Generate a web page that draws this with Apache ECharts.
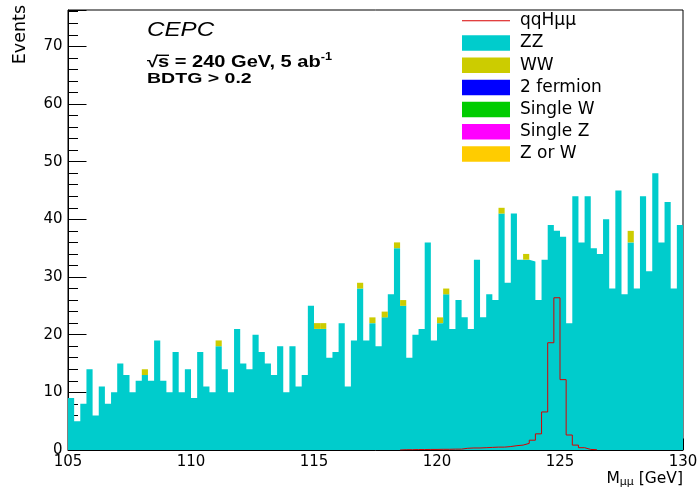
<!DOCTYPE html>
<html><head><meta charset="utf-8">
<script src="https://cdn.jsdelivr.net/npm/echarts@6/dist/echarts.min.js"></script>
<style>html,body{margin:0;padding:0;background:#fff}#c{width:697px;height:493px}</style>
</head><body><div id="c"></div>
<script>
// Histogram binning (GeV)
const binStart = 105;
const binWidth = 0.25;
// ZZ background per bin (100 bins, 105-130 GeV)
const zz = [9,5,8,14,6,11,8,10,15,13,10,12,13,12,19,12,10,17,10,14,9,17,11,10,18,
14,10,21,15,14,20,17,15,13,18,10,18,11,13,25,21,21,16,17,22,11,19,28,19,22,
18,23,27,35,25,16,20,21,36,19,22,27,21,26,23,21,33,23,27,26,41,29,41,33,33,
32.7,26,33,39,38,37,22,44,36,44,35,34,40,28,45,27,36,28,44,31,48,36,43,28,39];
// WW background per bin
const ww = [0,0,0,0,0,0,0,0,0,0,0,0,1,0,0,0,0,0,0,0,0,0,0,0,1,
0,0,0,0,0,0,0,0,0,0,0,0,0,0,0,1,1,0,0,0,0,0,1,0,1,
0,1,0,1,1,0,0,0,0,0,1,1,0,0,0,0,0,0,0,0,1,0,0,0,1,
0,0,0,0,0,0,0,0,0,0,0,0,0,0,0,0,2,0,0,0,0,0,0,0,0];
// qqHmumu signal per bin
const sig = [0,0,0,0,0,0,0,0,0,0,0,0,0,0,0,0,0,0,0,0,0,0,0,0,0,
0,0,0,0,0,0,0,0,0,0,0,0,0,0,0,0,0,0,0,0,0,0,0,0,0,
0,0,0,0,0.05,0.05,0.08,0.08,0.1,0.1,0.12,0.12,0.15,0.15,0.3,0.35,0.35,0.4,0.45,0.5,0.5,0.6,0.75,0.85,1.15,
1.7,2.8,6.6,18.6,26.4,12.2,2.6,0.85,0.4,0.1,0.05,0,0,0,0,0,0,0,0,0,0,0,0,0,0];
const names = ['qqHμμ','ZZ','WW','2 fermion','Single W','Single Z','Z or W'];
const colors = ['#d80000','#00cccc','#cccc00','#0000ff','#00cc00','#ff00ff','#ffcc00'];
const xRange = [105, 130];
const yRange = [0, 76.3];

const edge = i => binStart + i * binWidth;
const nb = zz.length;

const zzPts = zz.map((v, i) => [edge(i), v]);
zzPts.push([edge(nb), zz[nb - 1]]);

const wwRects = [];
ww.forEach((v, i) => { if (v > 0) wwRects.push([edge(i), edge(i + 1), zz[i], zz[i] + v]); });

let s0 = sig.findIndex(v => v > 0);
let s1 = sig.length - 1 - [...sig].reverse().findIndex(v => v > 0);
const sigPts = [[edge(s0), 0]];
for (let i = s0; i <= s1; i++) sigPts.push([edge(i), sig[i]]);
sigPts.push([edge(s1 + 1), sig[s1]]);
sigPts.push([edge(s1 + 1), 0]);

const chart = echarts.init(document.getElementById('c'), null, {renderer: 'canvas'});
const FONT = 'DejaVu Sans';
const emptySeries = [3,4,5,6].map(k => ({
  name: names[k], type: 'line', data: [], symbol: 'none',
  itemStyle: {color: colors[k]}, lineStyle: {color: colors[k]}
}));

chart.setOption({
  animation: false,
  backgroundColor: '#fff',
  grid: {left: 68, right: 14, top: 10, bottom: 43, show: true, borderColor: '#000', borderWidth: 1, backgroundColor: 'transparent', outerBoundsMode: 'none', containLabel: false},
  xAxis: {
    type: 'value', min: xRange[0], max: xRange[1], interval: 5,
    axisLine: {show: true, onZero: false, lineStyle: {color: '#000', width: 1}},
    axisTick: {show: true, inside: true, length: 11.5, lineStyle: {color: '#000'}},
    minorTick: {show: true, splitNumber: 5, length: 5.7, lineStyle: {color: '#000'}},
    splitLine: {show: false},
    axisLabel: {color: '#000', fontFamily: FONT, fontSize: 15, margin: 5}
  },
  yAxis: [{
    type: 'value', min: yRange[0], max: yRange[1], interval: 10,
    axisLine: {show: true, onZero: false, lineStyle: {color: '#000', width: 1}},
    axisTick: {show: true, inside: true, length: 18.5, lineStyle: {color: '#000'}},
    splitLine: {show: false},
    axisLabel: {color: '#000', fontFamily: FONT, fontSize: 15, margin: 5.5,
      formatter: v => (Math.abs(v % 10) < 1e-9 ? String(v) : ''), showMaxLabel: true}
  }, {
    type: 'value', min: yRange[0], max: yRange[1], interval: 2, position: 'left',
    axisLine: {show: false},
    axisTick: {show: true, inside: true, length: 10, lineStyle: {color: '#000'}},
    splitLine: {show: false},
    axisLabel: {show: false}
  }],
  legend: {
    orient: 'vertical', left: 462, top: 12.3, padding: 0,
    itemWidth: 48, itemHeight: 15.5, itemGap: 5.2, selectedMode: false,
    textStyle: {fontFamily: FONT, fontSize: 17, color: '#000', lineHeight: 17, padding: [0, 0, 0, 5]},
    data: names.map((n, k) => k === 0
      ? {name: n, icon: 'path://M0,0 L48,0 L48,1 L0,1 Z'}
      : {name: n, icon: 'rect'})
  },
  series: [
    {
      name: 'ZZ', type: 'line', step: 'end', data: zzPts, symbol: 'none', z: 2,
      itemStyle: {color: colors[1]}, lineStyle: {color: colors[1], width: 0},
      areaStyle: {color: colors[1], opacity: 1, origin: 0}
    },
    {
      name: 'WW', type: 'custom', data: wwRects, z: 3,
      itemStyle: {color: colors[2]},
      encode: {x: [0, 1], y: [2, 3]},
      renderItem: (params, api) => {
        const p0 = api.coord([api.value(0), api.value(3)]);
        const p1 = api.coord([api.value(1), api.value(2)]);
        return {type: 'rect', shape: {x: p0[0], y: p0[1], width: p1[0] - p0[0], height: p1[1] - p0[1]},
          style: {fill: colors[2]}};
      }
    },
    ...emptySeries,
    {
      name: 'qqHμμ', type: 'line', step: 'end', data: sigPts, symbol: 'none', z: 5,
      itemStyle: {color: colors[0]}, lineStyle: {color: colors[0], width: 1}
    }
  ],
  graphic: [
    {type: 'text', x: 147, y: 30.5, scaleX: 1.24, z: 10,
      style: {text: 'CEPC', fontFamily: 'Liberation Sans', fontStyle: 'italic', fontSize: 19.5, fill: '#000', align: 'left', verticalAlign: 'middle'}},
    {type: 'text', x: 147, y: 61.3, scaleX: 1.27, z: 10,
      style: {text: '{a|√s = 240 GeV, 5 ab}{b|-1}', fill: '#000', align: 'left', verticalAlign: 'middle',
        rich: {
          a: {fontFamily: 'Liberation Sans', fontWeight: 'bold', fontSize: 15.8, lineHeight: 18, verticalAlign: 'bottom'},
          b: {fontFamily: 'Liberation Sans', fontWeight: 'bold', fontSize: 10, lineHeight: 10, verticalAlign: 'top'}
        }}},
    {type: 'line', z: 10, shape: {x1: 157, y1: 55.3, x2: 169, y2: 55.3}, style: {stroke: '#000', lineWidth: 1.4}},
    {type: 'text', x: 147, y: 79, scaleX: 1.26, z: 10,
      style: {text: 'BDTG > 0.2', fontFamily: 'Liberation Sans', fontWeight: 'bold', fontSize: 15.5, fill: '#000', align: 'left', verticalAlign: 'middle'}},
    {type: 'text', x: 20, y: 5, rotation: Math.PI / 2, z: 10,
      style: {text: 'Events', fontFamily: FONT, fontSize: 17.5, fill: '#000', align: 'right', verticalAlign: 'middle'}},
    {type: 'text', x: 683, y: 478.5, z: 10,
      style: {text: '{a|M}{b|μμ}{a| [GeV]}', fill: '#000', align: 'right', verticalAlign: 'middle',
        rich: {
          a: {fontFamily: FONT, fontSize: 15.5, lineHeight: 18, verticalAlign: 'middle'},
          b: {fontFamily: FONT, fontSize: 11, lineHeight: 8, verticalAlign: 'bottom'}
        }}}
  ]
});
</script></body></html>
